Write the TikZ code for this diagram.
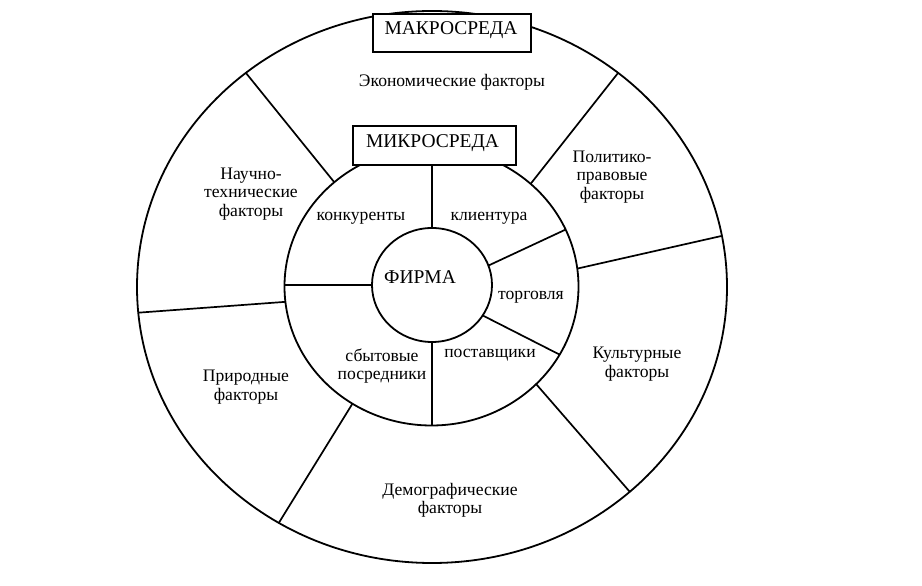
\documentclass[tikz,border=0pt]{standalone}
\usepackage{fontspec}
\setmainfont{Liberation Serif}
\usetikzlibrary{shapes.geometric}
\begin{document}
\begin{tikzpicture}[x=1pt,y=1pt,
  ring/.style={draw, ellipse, inner sep=0pt, outer sep=0pt, line width=1.8pt},
  div/.style={line width=1.7pt},
  lbl/.style={font=\fontsize{17.6}{18.4}\selectfont, align=center, inner sep=0pt},
  big/.style={font=\fontsize{19.5}{22}\selectfont, inner sep=0pt},
  titlebox/.style={draw, line width=1.9pt, inner sep=0pt, outer sep=0pt, fill=white}]
\useasboundingbox (0,0) rectangle (922,586);
\node[ring, minimum width=590pt, minimum height=552pt] (outer) at (432,299) {};
\node[ring, minimum width=294pt, minimum height=278pt] (micro) at (431.5,299.5) {};
\node[ring, minimum width=120pt, minimum height=114pt] (firm) at (432,301) {};
% boxes
\node[titlebox, minimum width=158pt, minimum height=38pt] (makro) at (452,553) {};
\node[big] (makrot) at (451,556) {МАКРОСРЕДА};
\node[titlebox, minimum width=163pt, minimum height=39pt] (mbox) at (434.5,440.5) {};
\node[big] (mboxt) at (432.5,443) {МИКРОСРЕДА};
% outer dividers
\draw[div] (micro.133.6) -- (outer.131.1);
\draw[div] (micro.46.1) -- (outer.49.4);
\draw[div] (micro.7) -- (outer.10.4);
\draw[div] (micro.317.5) -- (outer.314.3);
\draw[div] (micro.236.1) -- (outer.237.8);
\draw[div] (micro.186.6) -- (outer.185.8);
% inner dividers
\draw[div] (firm.north) -- (firm.north |- mbox.south);
\draw[div] (firm.west) -- (firm.west -| micro.west);
\draw[div] (firm.south) -- (firm.south |- micro.south);
\draw[div] (firm.19.9) -- (micro.23.4);
\draw[div] (firm.329.5) -- (micro.332.7);
% labels
\node[big] (firmt) at (420,309) {ФИРМА};
\node[lbl] (econ) at (452,504) {Экономические факторы};
\node[lbl] (tech) at (251,392) {Научно-\\технические\\факторы};
\node[lbl] (pol) at (612,409) {Политико-\\правовые\\факторы};
\node[lbl] (cult) at (637,222) {Культурные\\факторы};
\node[lbl] (nat) at (246,199) {Природные\\факторы};
\node[lbl] (dem) at (450,86) {Демографические\\факторы};
\node[lbl] (konk) at (361,368) {конкуренты};
\node[lbl] (klient) at (489,368) {клиентура};
\node[lbl] (torg) at (531,289) {торговля};
\node[lbl] (post) at (490,231) {поставщики};
\node[lbl] (sbyt) at (382,220) {сбытовые\\посредники};
\end{tikzpicture}
\end{document}
